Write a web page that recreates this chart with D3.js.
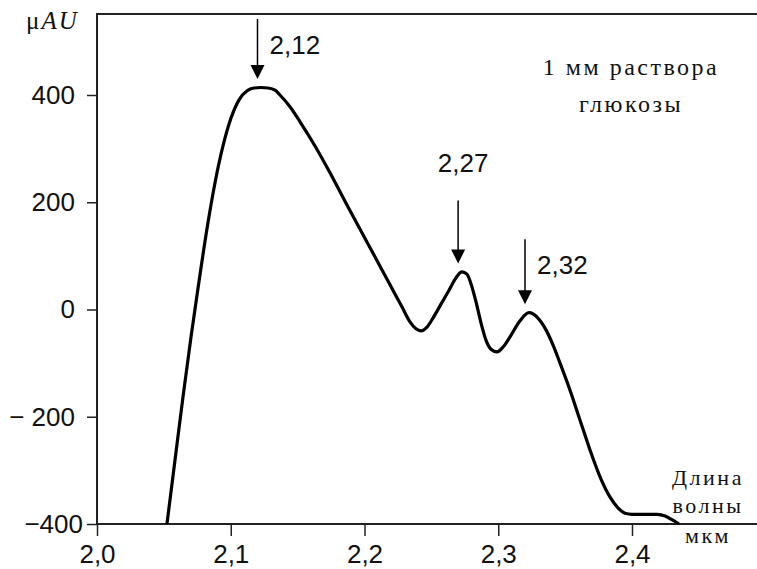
<!DOCTYPE html>
<html>
<head>
<meta charset="utf-8">
<script src="https://cdn.jsdelivr.net/npm/d3@7"></script>
<style>
  html, body { margin: 0; padding: 0; background: #fff; }
  svg { display: block; }
</style>
</head>
<body>
<svg id="chart" width="757" height="569"></svg>
<script>
// Absorption spectrum of a 1 mM glucose solution (wavelength in µm, signal in µAU)
const wavelength = [
  2.0523, 2.0583, 2.0643, 2.0703, 2.0763, 2.0822, 2.0882, 2.0942, 2.1002, 2.1062,
  2.1122, 2.1174, 2.1226, 2.1279, 2.1331, 2.1368, 2.1443, 2.1518, 2.1630, 2.1742,
  2.1854, 2.1966, 2.2079, 2.2191, 2.2280, 2.2340, 2.2385, 2.2422, 2.2467, 2.2512,
  2.2572, 2.2632, 2.2684, 2.2729, 2.2766, 2.2796, 2.2834, 2.2871, 2.2908, 2.2946,
  2.2991, 2.3036, 2.3088, 2.3163, 2.3230, 2.3297, 2.3357, 2.3409, 2.3462, 2.3536,
  2.3611, 2.3686, 2.3761, 2.3836, 2.3895, 2.3948, 2.4000, 2.4187, 2.4247, 2.4299,
  2.4351
];
const signal = [
  -400, -281, -163, -51, 53, 150, 236, 305, 357, 391,
  408, 413, 414, 413, 409, 400, 378, 350, 305, 255,
  202, 150, 98, 46, 5, -23, -36, -40, -33, -16,
  10, 36, 59, 70, 66, 48, 14, -25, -57, -74,
  -79, -70, -51, -21, -6, -16, -38, -66, -100, -150,
  -206, -262, -312, -350, -370, -380, -382, -382, -385, -392,
  -400
];

const xTicks = [2.0, 2.1, 2.2, 2.3, 2.4];
const xTickLabels = ["2,0", "2,1", "2,2", "2,3", "2,4"];
const yTicks = [-400, -200, 0, 200, 400];
const yTickLabels = ["\u2212400", "\u2212 200", "0", "200", "400"];

// Marked absorption maxima
const peaks = [2.12, 2.27, 2.32];
const peakLabels = ["2,12", "2,27", "2,32"];

const titleLines = ["1 мм раствора", "глюкозы"];
const xTitleLines = ["Длина", "волны", "мкм"];

// ---- layout ----
const W = 757, H = 569;
const sans = "'Liberation Sans', Arial, sans-serif";
const serif = "'Liberation Serif', 'Times New Roman', serif";
const ink = "#111";

const svg = d3.select("#chart");

const x = d3.scaleLinear().domain([2.0, 2.4]).range([97, 632]);
const y = d3.scaleLinear().domain([-400, 400]).range([524, 95]);
const yTop = 551;

// frame: left, top and bottom lines (open on the right)
svg.append("path")
  .attr("fill", "none").attr("stroke", "#222").attr("stroke-width", 2)
  .attr("d", `M${W},${y(yTop)}H${x(2.0)}V${y(-400)}H${W}`);

// y axis
const yAxis = svg.append("g")
  .attr("transform", `translate(${x(2.0)},0)`)
  .call(d3.axisLeft(y).tickValues(yTicks)
    .tickFormat((d, i) => yTickLabels[i])
    .tickSize(10).tickPadding(12));
yAxis.select(".domain").remove();
yAxis.selectAll(".tick line").attr("stroke", "#222").attr("stroke-width", 1.5);
yAxis.selectAll(".tick text")
  .attr("font-family", sans).attr("font-size", 26).attr("fill", ink)
  .attr("x", d => d === -400 ? -14 : -22);

// x axis
const xAxis = svg.append("g")
  .attr("transform", `translate(0,${y(-400)})`)
  .call(d3.axisBottom(x).tickValues(xTicks)
    .tickFormat((d, i) => xTickLabels[i])
    .tickSize(12).tickPadding(9));
xAxis.select(".domain").remove();
xAxis.selectAll(".tick line").attr("stroke", "#222").attr("stroke-width", 1.5);
xAxis.selectAll(".tick text")
  .attr("font-family", sans).attr("font-size", 26).attr("fill", ink);

// unit label of the y axis
const yUnit = svg.append("text")
  .attr("x", 26).attr("y", 29)
  .attr("font-family", serif).attr("font-size", 25).attr("fill", ink)
  .attr("letter-spacing", 2);
yUnit.append("tspan").text("\u03bc");
yUnit.append("tspan").attr("font-style", "italic").text("AU");

// spectrum
const pts = wavelength.map((w, i) => [w, signal[i]]);
svg.append("path")
  .datum(pts)
  .attr("fill", "none")
  .attr("stroke", "#000")
  .attr("stroke-width", 3.2)
  .attr("stroke-linejoin", "round")
  .attr("d", d3.line().x(d => x(d[0])).y(d => y(d[1])).curve(d3.curveMonotoneX));

// arrows pointing at the maxima
const arrowLen = [60, 63, 65];
const labelPlace = ["right", "above", "right"];
const arrows = svg.append("g");
peaks.forEach((p, i) => {
  const near = pts.filter(d => Math.abs(d[0] - p) <= 0.01);
  const top = d3.max(near, d => d[1]);
  const px = x(p);
  const tip = y(top) - 8.5;
  const tail = tip - arrowLen[i];
  arrows.append("line")
    .attr("x1", px).attr("x2", px)
    .attr("y1", tail).attr("y2", tip - 12)
    .attr("stroke", "#000").attr("stroke-width", 1.5);
  arrows.append("path")
    .attr("d", `M${px - 7},${tip - 14}L${px + 7},${tip - 14}L${px},${tip}Z`)
    .attr("fill", "#000");
  const t = arrows.append("text")
    .attr("font-family", sans).attr("font-size", 26).attr("fill", ink)
    .text(peakLabels[i]);
  if (labelPlace[i] === "right") {
    t.attr("x", px + 12).attr("y", tail + 35);
  } else {
    t.attr("x", px + 5).attr("y", tail - 28).attr("text-anchor", "middle");
  }
});

// sample caption
svg.append("g").selectAll("text")
  .data(titleLines).join("text")
  .attr("x", 631).attr("y", (d, i) => 75 + i * 37)
  .attr("text-anchor", "middle")
  .attr("font-family", serif).attr("font-size", 24).attr("fill", ink)
  .attr("letter-spacing", 2.5)
  .text(d => d);

// x axis title
svg.append("g").selectAll("text")
  .data(xTitleLines).join("text")
  .attr("x", 708).attr("y", (d, i) => [485, 513, 543][i])
  .attr("text-anchor", "middle")
  .attr("font-family", serif).attr("font-size", 22).attr("fill", ink)
  .attr("letter-spacing", 2.5)
  .text(d => d);
</script>
</body>
</html>
